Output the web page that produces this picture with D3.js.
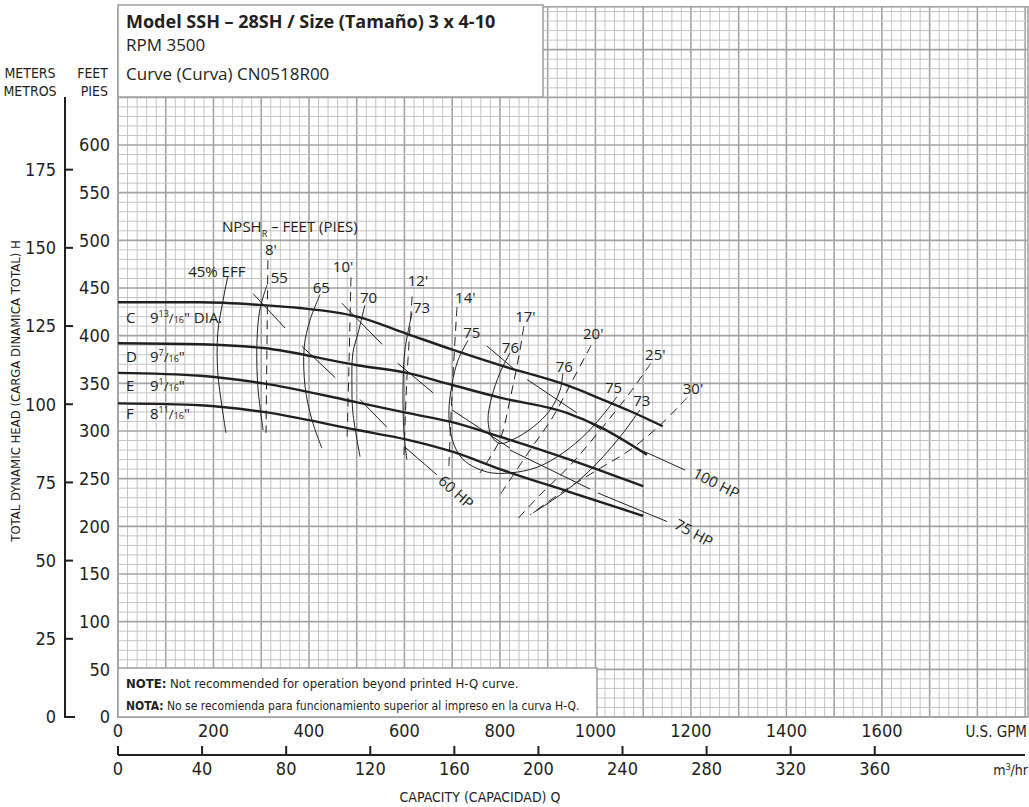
<!DOCTYPE html>
<html><head><meta charset="utf-8">
<script src="https://cdn.jsdelivr.net/npm/d3@7"></script>
<style>
html,body{margin:0;padding:0;background:#fff;}
svg{display:block;}
text{font-family:'Open Sans',sans-serif;fill:#231f20;}
.cond{font-family:'Liberation Sans Narrow','DejaVu Sans Condensed',sans-serif;}
</style></head><body>
<svg id="c" width="1029" height="807"></svg>
<script>
// ---------- data ----------
const gpmTicks = [0,200,400,600,800,1000,1200,1400,1600];
const m3Ticks = [0,40,80,120,160,200,240,280,320,360];
const feetTicks = [0,50,100,150,200,250,300,350,400,450,500,550,600];
const meterTicks = [0,25,50,75,100,125,150,175];

// H-Q curves [GPM, feet]
const curveC = [[0,435],[172,435],[304,432],[381,429],[501,420],[605,402],[702,385],[800,369],[940,348],[1010,334],[1072,321],[1141,305]];
const curveD = [[0,392],[172,391],[304,387],[501,369],[605,361],[702,348],[800,335],[940,319],[1010,304],[1108,275]];
const curveE = [[0,361],[172,358],[304,350],[501,330],[605,319],[702,309],[800,294],[940,271],[1100,242]];
const curveF = [[0,329],[172,327],[304,320],[501,301],[605,291],[702,278],[800,260],[940,237],[1100,211]];

// Diameter labels
const diaLetters = ["C","D","E","F"];
const diaWhole = ["9","9","9","8"];
const diaNum = ["13","7","1","11"];
const diaDen = ["16","16","16","16"];
const diaSuffix = ['" DIA.','"','"','"'];
const diaLabelFt = [413,372,342,313];

// Efficiency curves
const eff45 = [[230,462],[220,437],[209,403],[209,361],[218,325],[226,298]];
const eff55 = [[312,453],[297,427],[291,392],[293,346],[304,301]];
const eff65 = [[423,443],[402,416],[390,388],[392,346],[406,312],[427,282]];
const eff70 = [[517,432],[503,403],[492,382],[490,346],[492,319],[507,273]];
const eff73a = [[616,424],[601,385],[597,346],[599,298],[605,270]];
const eff75 = [[733,395],[712,374],[700,350],[693,319],[700,291],[723,270],[773,257],[821,256],[878,262],[932,277],[982,298],[1024,322],[1045,336]];
const eff76 = [[821,382],[800,361],[783,336],[775,312],[783,294],[800,287],[827,291],[869,304],[905,322],[926,343],[932,361]];
const eff73b = [[1093,322],[1058,298],[1016,273],[974,252],[932,235],[869,214]];

const effLabels = ["45% EFF","55","65","70","73","75","76","76","75","73"];
const effLabelPos = [[147,462],[320,455],[408,445],[507,434],[618,424],[723,398],[804,382],[917,362],[1020,340],[1079,326]];

// NPSHr curves (dashed)
const npsh8 = [[314,479],[310,298]];
const npsh10 = [[488,461],[484,374],[480,294]];
const npsh12 = [[616,441],[605,354],[599,275]];
const npsh14 = [[710,430],[700,343],[693,262]];
const npsh17 = [[850,410],[842,385],[821,333],[800,291],[758,256]];
const npsh20 = [[991,390],[953,354],[911,315],[863,280],[800,233]];
const npsh25 = [[1116,371],[1072,340],[1010,301],[947,264],[884,233],[832,205]];
const npsh30 = [[1192,335],[1135,306],[1072,280],[1010,261],[936,238],[863,212]];
const npshLabels = ["8'","10'","12'","14'","17'","20'","25'","30'"];
const npshLabelPos = [[308,485],[450,467],[607,452],[706,434],[832,414],[974,397],[1104,374],[1183,339]];

// Horsepower line segments
const hpSegments = [
  [[283,444],[350,408]],[[385,389],[455,356]],[[469,434],[553,391]],[[586,371],[660,340]],
  [[507,333],[563,304]],[[601,283],[668,254]],[[700,322],[821,282]],[[773,389],[832,364]],
  [[857,354],[961,319]],[[974,313],[1010,302]],[[821,280],[989,239]],[[1005,235],[1150,205]],
  [[1100,279],[1188,259]]
];
const hpLabels = ["60 HP","100 HP","75 HP"];
const hpLabelPos = [[708,236],[1253,245],[1206,193]];
const hpLabelAngle = [42,27,29];

// ---------- drawing ----------
const svg = d3.select("#c");
const x = d3.scaleLinear().domain([0,1906]).range([118,1028]);
const y = d3.scaleLinear().domain([0,600]).range([717,145]);
const ym = d3.scaleLinear().domain([0,600/3.2808]).range([717,145]);
const xm = d3.scaleLinear().domain([0,1906/4.4029]).range([118,1028]);
const topFt = 745;

// grid
const grid = svg.append("g");
d3.range(0,1907,20).forEach(g=>{
  const maj = g%100===0;
  grid.append("line").attr("x1",x(g)).attr("x2",x(g)).attr("y1",y(0)).attr("y2",y(topFt))
    .attr("stroke",maj?"#a3a3a3":"#c4c4c4").attr("stroke-width",maj?1.6:1);
});
d3.range(0,topFt+1,10).forEach(f=>{
  const maj = f%50===0;
  grid.append("line").attr("x1",x(0)).attr("x2",x(1906)).attr("y1",y(f)).attr("y2",y(f))
    .attr("stroke",maj?"#a3a3a3":"#c4c4c4").attr("stroke-width",maj?1.6:1);
});
grid.append("rect").attr("x",x(0)).attr("y",y(topFt)).attr("width",x(1906)-x(0)).attr("height",y(0)-y(topFt))
  .attr("fill","none").attr("stroke","#a3a3a3").attr("stroke-width",1.6);

// title box
svg.append("rect").attr("x",118).attr("y",5).attr("width",425).attr("height",92)
  .attr("fill","#fff").attr("stroke","#a3a3a3").attr("stroke-width",1.6);
svg.append("text").attr("x",126).attr("y",28).attr("font-size",18).attr("font-weight","bold").text("Model SSH – 28SH / Size (Tamaño) 3 x 4-10");
svg.append("text").attr("x",126).attr("y",51).attr("font-size",17).text("RPM 3500");
svg.append("text").attr("x",126).attr("y",80).attr("font-size",17).text("Curve (Curva) CN0518R00");

// note box
svg.append("rect").attr("x",118).attr("y",668).attr("width",479).attr("height",49)
  .attr("fill","#fff").attr("stroke","#a3a3a3").attr("stroke-width",1.6);
const n1 = svg.append("text").attr("class","cond").attr("x",126).attr("y",688).attr("font-size",13);
n1.append("tspan").attr("font-weight","bold").text("NOTE:");
n1.append("tspan").text(" Not recommended for operation beyond printed H-Q curve.");
const n2 = svg.append("text").attr("class","cond").attr("x",126).attr("y",710).attr("font-size",12);
n2.append("tspan").attr("font-weight","bold").text("NOTA:");
n2.append("tspan").text(" No se recomienda para funcionamiento superior al impreso en la curva H-Q.");

// left axes headers
[["METERS",78],["METROS",96]].forEach(d=>svg.append("text").attr("class","cond").attr("x",30).attr("y",d[1]).attr("text-anchor","middle").attr("font-size",14).text(d[0]));
[["FEET",78],["PIES",96]].forEach(d=>svg.append("text").attr("class","cond").attr("x",108).attr("y",d[1]).attr("text-anchor","end").attr("font-size",14).text(d[0]));

// meters axis
svg.append("path").attr("d",`M65,97V${ym(0)}H75`).attr("fill","none").attr("stroke","#231f20").attr("stroke-width",2);
meterTicks.forEach(m=>{
  if(m>0) svg.append("line").attr("x1",65).attr("x2",73).attr("y1",ym(m)).attr("y2",ym(m)).attr("stroke","#231f20").attr("stroke-width",2);
  svg.append("text").attr("class","cond").attr("x",56).attr("y",ym(m)).attr("dy","0.35em").attr("text-anchor","end").attr("font-size",18).text(m);
});
// feet labels
feetTicks.forEach(f=>{
  svg.append("text").attr("class","cond").attr("x",110).attr("y",y(f)).attr("dy","0.35em").attr("text-anchor","end").attr("font-size",18).text(f);
});
svg.append("text").attr("class","cond").attr("transform","translate(20,391) rotate(-90)").attr("text-anchor","middle").attr("font-size",13)
  .text("TOTAL DYNAMIC HEAD (CARGA DINAMICA TOTAL) H");

// GPM labels
gpmTicks.forEach(g=>{
  svg.append("text").attr("class","cond").attr("x",x(g)).attr("y",737).attr("text-anchor","middle").attr("font-size",18).text(g);
});
svg.append("text").attr("class","cond").attr("x",1027).attr("y",737).attr("text-anchor","end").attr("font-size",15).text("U.S. GPM");
// m3/hr axis
svg.append("line").attr("x1",xm(0)).attr("x2",1025).attr("y1",755).attr("y2",755).attr("stroke","#231f20").attr("stroke-width",2);
m3Ticks.forEach(m=>{
  svg.append("line").attr("x1",xm(m)).attr("x2",xm(m)).attr("y1",746).attr("y2",755).attr("stroke","#231f20").attr("stroke-width",2);
  svg.append("text").attr("class","cond").attr("x",xm(m)).attr("y",775).attr("text-anchor","middle").attr("font-size",18).text(m);
});
const mt = svg.append("text").attr("class","cond").attr("x",1028).attr("y",775).attr("text-anchor","end").attr("font-size",14);
mt.append("tspan").text("m");
mt.append("tspan").attr("font-size",9).attr("dy",-5).text("3");
mt.append("tspan").attr("dy",5).text("/hr");
svg.append("text").attr("class","cond").attr("x",480).attr("y",802).attr("text-anchor","middle").attr("font-size",14).text("CAPACITY (CAPACIDAD) Q");

// curves
const line = d3.line().x(d=>x(d[0])).y(d=>y(d[1]));
const smooth = d3.line().x(d=>x(d[0])).y(d=>y(d[1])).curve(d3.curveCatmullRom.alpha(0.5));
const hq = d3.line().x(d=>x(d[0])).y(d=>y(d[1])).curve(d3.curveMonotoneX);

[eff45,eff55,eff65,eff70,eff73a,eff75,eff76,eff73b].forEach(c=>{
  svg.append("path").attr("d",smooth(c)).attr("fill","none").attr("stroke","#231f20").attr("stroke-width",1);
});
[npsh8,npsh10,npsh12,npsh14,npsh17,npsh20,npsh25,npsh30].forEach(c=>{
  svg.append("path").attr("d",smooth(c)).attr("fill","none").attr("stroke","#231f20").attr("stroke-width",1).attr("stroke-dasharray","9,6");
});
hpSegments.forEach(s=>{
  svg.append("path").attr("d",line(s)).attr("fill","none").attr("stroke","#231f20").attr("stroke-width",1);
});
[curveC,curveD,curveE,curveF].forEach(c=>{
  svg.append("path").attr("d",hq(c)).attr("fill","none").attr("stroke","#231f20").attr("stroke-width",2.4);
});

// diameter labels
diaLetters.forEach((L,i)=>{
  svg.append("text").attr("x",x(17)).attr("y",y(diaLabelFt[i])).attr("font-size",15).text(L);
  const t = svg.append("text").attr("x",x(67)).attr("y",y(diaLabelFt[i])).attr("font-size",15);
  t.append("tspan").text(diaWhole[i]);
  t.append("tspan").attr("font-size",9).attr("dy",-6).text(diaNum[i]);
  t.append("tspan").attr("font-size",13).attr("dy",6).text("/");
  t.append("tspan").attr("font-size",9).text(diaDen[i]);
  t.append("tspan").text(diaSuffix[i]);
});

// efficiency labels
effLabels.forEach((s,i)=>{
  svg.append("text").attr("x",x(effLabelPos[i][0])).attr("y",y(effLabelPos[i][1])).attr("font-size",15).text(s);
});
npshLabels.forEach((s,i)=>{
  svg.append("text").attr("x",x(npshLabelPos[i][0])).attr("y",y(npshLabelPos[i][1])).attr("font-size",15).text(s);
});
const nt = svg.append("text").attr("x",x(218)).attr("y",y(509)).attr("font-size",15);
nt.append("tspan").text("NPSH");
nt.append("tspan").attr("font-size",9).attr("dy",5).text("R");
nt.append("tspan").attr("dy",-5).text(" – FEET (PIES)");

hpLabels.forEach((s,i)=>{
  svg.append("text").attr("transform",`translate(${x(hpLabelPos[i][0])},${y(hpLabelPos[i][1])}) rotate(${hpLabelAngle[i]})`)
    .attr("text-anchor","middle").attr("dy","0.35em").attr("font-size",15).text(s);
});
</script>
</body></html>
